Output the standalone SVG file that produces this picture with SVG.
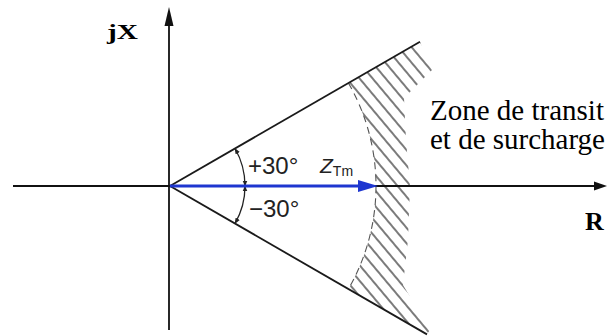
<svg xmlns="http://www.w3.org/2000/svg" width="608" height="336" viewBox="0 0 608 336">
<style>
.ax{stroke:#111;stroke-width:1.8;fill:none}
.ln{stroke:#1a1a1a;stroke-width:1.8;fill:none}
.ang{stroke:#222;stroke-width:1.3;fill:none;marker-start:url(#ah);marker-end:url(#ah)}
.sans{font-family:"Liberation Sans",Arial,sans-serif;fill:#222}
.serif{font-family:"Liberation Serif","Times New Roman",serif;fill:#000}
.hatch{stroke:#333;stroke-width:1.3}
</style>
<defs>
<marker id="ah" viewBox="0 0 10 10" refX="9" refY="5" markerWidth="6" markerHeight="6" markerUnits="userSpaceOnUse" orient="auto-start-reverse">
<path d="M0,1 L10,5 L0,9 Z" fill="#222"/>
</marker>
<pattern id="hp" patternUnits="userSpaceOnUse" width="10" height="10" patternTransform="rotate(-40)">
<line x1="5" y1="0" x2="5" y2="10" class="hatch"/>
</pattern>
<clipPath id="hc">
<path d="M348.4,83 L420,42 L432,70 L404,98 L406,140 L410,186 L408,240 L403,285 L430,330 L427,334 L348.4,289 A206,206 0 0 0 348.4,83 Z"/>
</clipPath>
</defs>
<rect width="608" height="336" fill="#fff"/>
<g id="hatching">
<rect x="340" y="30" width="100" height="310" fill="url(#hp)" clip-path="url(#hc)"/>
<path d="M348.4,83 A206,206 0 0 1 348.4,289" fill="none" stroke="#555" stroke-width="1.1" stroke-dasharray="7 5"/>
</g>
<g id="connectors">
<line class="ax" x1="13" y1="186" x2="596" y2="186"/>
<path d="M594,181.5 L607,186 L594,190.5 Z" fill="#111"/>
<line class="ax" x1="169" y1="330" x2="169" y2="22"/>
<path d="M164.5,26 L169,7 L173.5,26 Z" fill="#111"/>
<line class="ln" x1="170" y1="186" x2="420" y2="41.7"/>
<line class="ln" x1="170" y1="186" x2="427" y2="334.4"/>
<path class="ang" d="M235,148.5 A75,75 0 0 1 245,186"/>
<path class="ang" d="M245,186 A75,75 0 0 1 235,223.5"/>
<line x1="170" y1="186" x2="362" y2="186" stroke="#1e36d0" stroke-width="3"/>
<path d="M358,180 L378,186 L358,192 Z" fill="#1e36d0"/>
</g>
<g id="label-jX"><text class="serif" x="107" y="39" font-size="22" font-weight="bold" textLength="31" lengthAdjust="spacingAndGlyphs">jX</text></g>
<g id="label-R"><text class="serif" x="585" y="230" font-size="26" font-weight="bold">R</text></g>
<g id="label-p30"><text class="sans" x="248" y="174" font-size="24">+30°</text></g>
<g id="label-m30"><text class="sans" x="249" y="217" font-size="24">−30°</text></g>
<g id="label-Z"><text class="sans" x="320" y="173" font-size="21" font-style="italic">Z<tspan font-style="normal" font-size="14" dy="3">Tm</tspan></text></g>
<g id="label-zone"><text class="serif" x="430" y="120" font-size="29">Zone de transit</text><text class="serif" x="430" y="149" font-size="29">et de surcharge</text></g>
</svg>
